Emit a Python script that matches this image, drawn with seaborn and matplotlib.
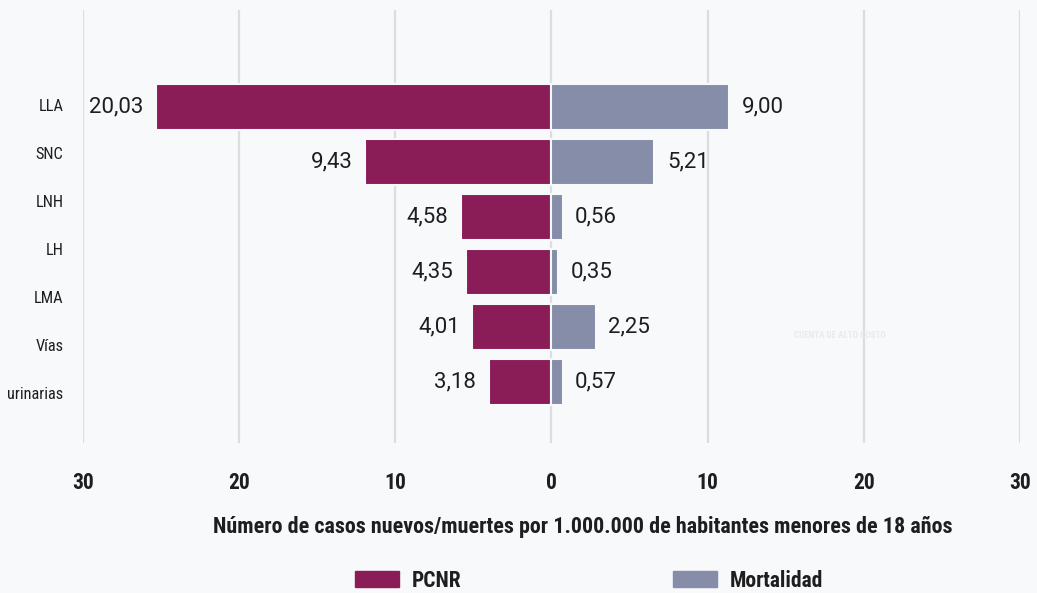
import pandas as pd
import matplotlib.pyplot as plt
import seaborn as sns
from matplotlib.patches import Patch

# data
categorias = ["LLA", "SNC", "LNH", "LH", "LMA", "Vías urinarias"]
etiquetas_eje = ["LLA", "SNC", "LNH", "LH", "LMA", "Vías", "urinarias"]
pcnr = [20.03, 9.43, 4.58, 4.35, 4.01, 3.18]
mortalidad = [9.00, 5.21, 0.56, 0.35, 2.25, 0.57]
ticks_eje = [30, 20, 10, 0, 10, 20, 30]

COLOR_PCNR = "#8A1C57"
COLOR_MORT = "#858DA9"
FONDO = "#F8F9FB"
GRIS_GRID = "#DCDDE0"
TEXTO = "#1E1E1E"
ESCALA = 1.265  # the axis labels of the original run ~1.27x the bar units

FAMILIA = ["Roboto Condensed", "DejaVu Sans"]

sns.set_style("white")
plt.rcParams["font.family"] = FAMILIA

df = pd.DataFrame({
    "categoria": categorias * 2,
    "serie": ["PCNR"] * len(categorias) + ["Mortalidad"] * len(categorias),
    "valor": [-v for v in pcnr] + mortalidad,
})

fig = plt.figure(figsize=(10.37, 5.93), dpi=100, facecolor=FONDO)
ax = fig.add_axes([0.080, 0.253, 0.9036, 0.730])
ax.set_facecolor(FONDO)

sns.barplot(data=df, y="categoria", x="valor", hue="serie", dodge=False,
            palette={"PCNR": COLOR_PCNR, "Mortalidad": COLOR_MORT},
            order=categorias, hue_order=["PCNR", "Mortalidad"], saturation=1,
            width=0.83, orient="h", edgecolor=FONDO, linewidth=1.5,
            legend=False, zorder=3, ax=ax)

# value labels with comma decimals
for cont, vals in zip(ax.containers, [pcnr, mortalidad]):
    ax.bar_label(cont, labels=[f"{v:.2f}".replace(".", ",") for v in vals],
                 padding=9, fontsize=16, family=["Roboto", "DejaVu Sans"],
                 color=TEXTO)

lim = 30 / ESCALA
ax.set_xlim(-lim, lim)
ax.set_ylim(5 + 1.11, -1.76)

xt = [(-t if i < 3 else t) / ESCALA for i, t in enumerate(ticks_eje)]
ax.set_xticks(xt)
ax.set_xticklabels([str(t) for t in ticks_eje], fontsize=15.5, fontweight="bold",
                   color=TEXTO)
ax.set_yticks([-0.03 + 0.873 * i for i in range(len(etiquetas_eje))])
ax.set_yticklabels(etiquetas_eje, fontsize=11.8, color=TEXTO)
ax.tick_params(axis="x", pad=21, length=0)
ax.tick_params(axis="y", pad=14, length=0)

ax.grid(axis="x", color=GRIS_GRID, linewidth=1.6, zorder=0)
ax.grid(axis="y", visible=False)
ax.set_axisbelow(True)
for s in ax.spines.values():
    s.set_visible(False)
ax.set_xlabel("")
ax.set_ylabel("")

fig.text(0.562, 0.111,
         "Número de casos nuevos/muertes por 1.000.000 de habitantes menores de 18 años",
         ha="center", va="center", fontsize=15.8, fontweight="bold", color=TEXTO)

# faint watermark
fig.text(0.81, 0.435, "CUENTA DE ALTO COSTO", ha="center", va="center",
         fontsize=6.5, fontweight="bold", color="#E9EAEC")

handles = [Patch(facecolor=COLOR_PCNR, edgecolor=COLOR_PCNR),
           Patch(facecolor=COLOR_MORT, edgecolor=COLOR_MORT)]
leg = fig.legend(handles, ["PCNR", "Mortalidad"], loc="center",
                 bbox_to_anchor=(0.568, 0.021), ncol=2, frameon=False,
                 handlelength=2.05, handleheight=0.7, handletextpad=0.6,
                 columnspacing=9.8,
                 prop={"size": 15.5, "weight": "bold", "family": FAMILIA})
for t in leg.get_texts():
    t.set_color(TEXTO)

plt.savefig("out.png", dpi=100, facecolor=FONDO)
